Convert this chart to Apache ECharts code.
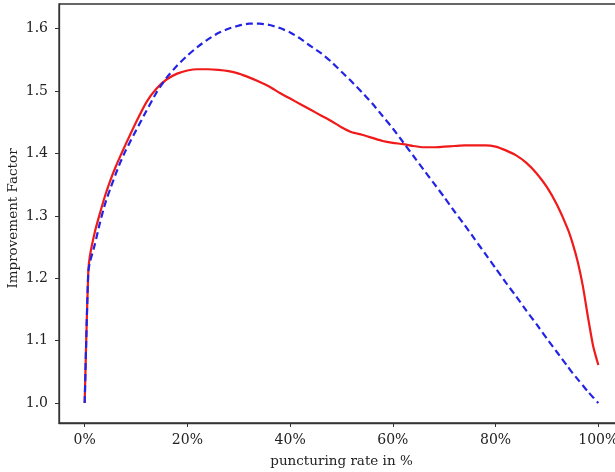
<!DOCTYPE html>
<html>
<head>
<meta charset="utf-8">
<style>
  html, body { margin: 0; padding: 0; background: #fff; }
  #chart { width: 615px; height: 472px; }
</style>
<script src="https://cdn.jsdelivr.net/npm/echarts@6/dist/echarts.min.js"></script>
</head>
<body>
<div id="chart"></div>
<script>
// puncturing rate in %
const rates = [0, 0.3, 0.7, 1, 2, 3, 4, 5, 6, 7, 8, 10, 12, 14, 16, 18, 20, 22, 24, 26, 28, 30,
  32, 34, 36, 38, 40, 42, 44, 46, 48, 50, 52, 54, 56, 58, 60, 62, 64, 66, 68, 70, 72, 74, 76,
  78, 80, 82, 84, 86, 88, 90, 92, 94, 95, 96, 97, 98, 99, 100]

// red solid curve
const solidValues = [1.0, 1.10, 1.21, 1.235, 1.275, 1.305, 1.333, 1.357, 1.378, 1.397, 1.415,
  1.450, 1.482, 1.504, 1.519, 1.528, 1.533, 1.535, 1.535, 1.534, 1.532, 1.528,
  1.522, 1.515, 1.507, 1.497, 1.488, 1.479, 1.470, 1.461, 1.452, 1.442, 1.434, 1.430, 1.425,
  1.420, 1.417, 1.415, 1.412, 1.410, 1.410, 1.411, 1.412, 1.413, 1.413,
  1.413, 1.411, 1.405, 1.397, 1.385, 1.368, 1.346, 1.317, 1.280, 1.256, 1.226, 1.187, 1.137,
  1.091, 1.061]

// blue dashed curve
const dashedValues = [1.0, 1.10, 1.21, 1.225, 1.255, 1.29, 1.32, 1.344, 1.366, 1.387, 1.405,
  1.437, 1.468, 1.498, 1.522, 1.541, 1.557, 1.571, 1.583, 1.593, 1.600, 1.605,
  1.608, 1.608, 1.606, 1.601, 1.594, 1.584, 1.572, 1.561, 1.547, 1.531, 1.515, 1.498, 1.480,
  1.460, 1.440, 1.418, 1.396, 1.374, 1.352, 1.330, 1.307, 1.285, 1.262,
  1.239, 1.216, 1.193, 1.171, 1.148, 1.126, 1.103, 1.081, 1.059, 1.048, 1.038, 1.028, 1.018,
  1.009, 1.0]

const xTicks = [0, 20, 40, 60, 80, 100]
const yTicks = [1.0, 1.1, 1.2, 1.3, 1.4, 1.5, 1.6]

const font = 'DejaVu Serif'
const ink = '#222'

const chart = echarts.init(document.getElementById('chart'), null, { renderer: 'canvas' })

chart.setOption({
  animation: false,
  backgroundColor: '#fff',
  grid: {
    left: 59, top: 4, right: -9, bottom: 49,
    outerBoundsMode: 'none',
    show: true, borderColor: '#333', borderWidth: 1.3, backgroundColor: 'transparent'
  },
  xAxis: {
    type: 'value',
    min: -5,
    max: 105,
    name: 'puncturing rate in %',
    nameLocation: 'middle',
    nameGap: 31,
    nameMoveOverlap: false,
    nameTextStyle: { fontFamily: font, fontSize: 13.5, color: ink },
    axisLine: { show: true, onZero: false, lineStyle: { color: '#333', width: 1.3 } },
    axisTick: { show: true, length: 4, customValues: xTicks, lineStyle: { color: '#333' } },
    axisLabel: {
      customValues: xTicks, margin: 10,
      fontFamily: font, fontSize: 14, color: ink,
      formatter: v => v + '%'
    },
    splitLine: { show: false }
  },
  yAxis: {
    type: 'value',
    min: 0.968,
    max: 1.6396,
    name: 'Improvement Factor',
    nameLocation: 'middle',
    nameGap: 39,
    nameMoveOverlap: false,
    nameTextStyle: { fontFamily: font, fontSize: 13.5, color: ink, padding: [0, 10, 0, 0] },
    axisLine: { show: true, onZero: false, lineStyle: { color: '#333', width: 1.3 } },
    axisTick: { show: true, length: 4, customValues: yTicks, lineStyle: { color: '#333' } },
    axisLabel: {
      customValues: yTicks, margin: 11,
      fontFamily: font, fontSize: 14, color: ink,
      formatter: v => v.toFixed(1)
    },
    splitLine: { show: false }
  },
  series: [
    {
      type: 'line',
      data: rates.map((r, i) => [r, solidValues[i]]),
      showSymbol: false,
      smooth: 0.2,
      lineStyle: { color: '#f01a1a', width: 2.2 }
    },
    {
      type: 'line',
      data: rates.map((r, i) => [r, dashedValues[i]]),
      showSymbol: false,
      smooth: 0.2,
      lineStyle: { color: '#2323e6', width: 2.2, type: [7, 4] }
    }
  ]
})
</script>
</body>
</html>
